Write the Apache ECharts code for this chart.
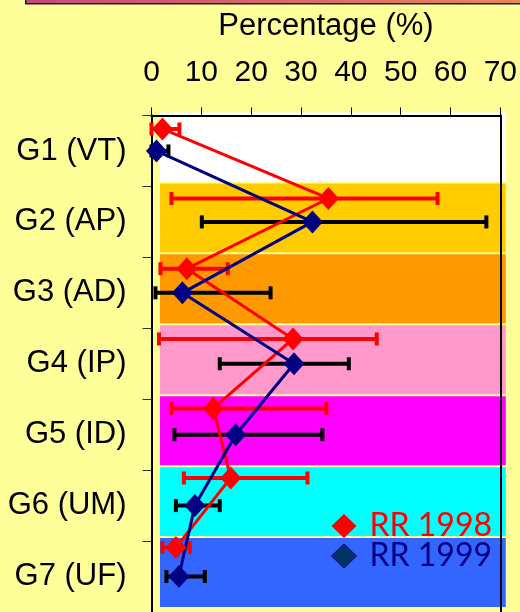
<!DOCTYPE html>
<html><head><meta charset="utf-8">
<script src="https://cdn.jsdelivr.net/npm/echarts@6/dist/echarts.min.js"></script>
<style>html,body{margin:0;padding:0;background:#FFFF99;}#c{width:520px;height:612px;}</style>
</head><body><div id="c"></div>
<script>
const categories = ['G1 (VT)', 'G2 (AP)', 'G3 (AD)', 'G4 (IP)', 'G5 (ID)', 'G6 (UM)', 'G7 (UF)'];
const bandColors = ['#FFFFFF', '#FFCC00', '#FF9900', '#FF99CC', '#FF00FF', '#00FFFF', '#3366FF'];
const xTicks = [0, 10, 20, 30, 40, 50, 60, 70];
const rr1998 = [2.2, 35.5, 7.1, 28.4, 12.4, 15.9, 4.9];
const rr1998Low = [0, 4.0, 1.8, 1.5, 4.0, 6.5, 2.2];
const rr1998High = [5.6, 57.4, 15.3, 45.2, 35.1, 31.3, 7.7];
const rr1998Pos = [0.19, 1.17, 2.16, 3.15, 4.13, 5.11, 6.09];
const rr1999 = [1.0, 32.3, 6.2, 28.6, 16.9, 8.7, 5.5];
const rr1999Low = [0, 10.1, 0.8, 13.7, 4.6, 4.9, 3.0];
const rr1999High = [3.4, 67.2, 23.9, 39.6, 34.3, 13.7, 10.7];
const rr1999Pos = [0.5, 1.5, 2.5, 3.5, 4.5, 5.5, 6.5];
const bandXStart = 1.7, bandXEnd = 71.1;

const chart = echarts.init(document.getElementById('c'), null, {renderer: 'canvas'});

function errRender(color) {
  return function (params, api) {
    const lo = api.coord([api.value(0), api.value(2)]);
    const hi = api.coord([api.value(1), api.value(2)]);
    const h = 6.5;
    const st = {stroke: color, lineWidth: 4};
    return {type: 'group', children: [
      {type: 'line', shape: {x1: lo[0], y1: lo[1], x2: hi[0], y2: hi[1]}, style: st},
      {type: 'line', shape: {x1: lo[0], y1: lo[1] - h, x2: lo[0], y2: lo[1] + h}, style: st},
      {type: 'line', shape: {x1: hi[0], y1: hi[1] - h, x2: hi[0], y2: hi[1] + h}, style: st}
    ]};
  };
}

const option = {
  backgroundColor: '#FFFF99',
  animation: false,
  textStyle: {fontFamily: 'Liberation Sans, Arial, sans-serif'},
  graphic: [{
    type: 'rect', left: 25, top: -10, shape: {width: 510, height: 13},
    style: {fill: new echarts.graphic.LinearGradient(0, 0, 1, 0, [{offset: 0, color: '#C24A7C'}, {offset: 1, color: '#E88A58'}]), stroke: '#222', lineWidth: 1.5},
    z: 100
  }],
  grid: {left: 151.5, top: 115.5, width: 349, height: 500, show: false},
  legend: {
    orient: 'vertical', left: 326, top: 505, itemWidth: 25, itemHeight: 24, itemGap: -2,
    textStyle: {fontFamily: 'Lato', fontSize: 32, lineHeight: 24, padding: [0, 0, 0, 8]},
    data: [
      {name: 'RR 1998', icon: 'diamond', itemStyle: {color: '#FF0000', borderWidth: 0}, textStyle: {color: '#FF0000'}},
      {name: 'RR 1999', icon: 'diamond', itemStyle: {color: '#003366', borderColor: '#000080', borderWidth: 1}, textStyle: {color: '#000080'}}
    ]
  },
  xAxis: {
    type: 'value', position: 'top', min: 0, max: 70, interval: 10, z: 3,
    name: 'Percentage (%)', nameLocation: 'middle', nameGap: 74,
    nameTextStyle: {fontSize: 31, color: '#000'},
    splitLine: {show: false},
    axisLine: {show: true, lineStyle: {color: '#000', width: 2}},
    axisTick: {show: true, length: 8, lineStyle: {color: '#000', width: 1}},
    axisLabel: {fontSize: 30, color: '#000', margin: 28, formatter: v => xTicks.includes(v) ? String(v) : ''}
  },
  yAxis: [{
    type: 'category', data: categories, inverse: true, position: 'left', z: 3,
    axisLine: {show: true, lineStyle: {color: '#000', width: 2}},
    axisTick: {show: true, length: 9, lineStyle: {color: '#333', width: 1}},
    axisLabel: {fontSize: 31, color: '#000', margin: 25, lineHeight: 36, verticalAlign: 'middle'},
    splitLine: {show: false}
  }, {
    type: 'value', min: 0, max: 7, inverse: true, position: 'right', z: 3,
    axisLine: {show: true, onZero: false, lineStyle: {color: '#000', width: 2}},
    axisTick: {show: false}, axisLabel: {show: false}, splitLine: {show: false}
  }],
  series: [
    {
      type: 'custom', name: 'bands', yAxisIndex: 1, z: 1, clip: false, silent: true,
      data: categories.map((c, i) => [i]),
      renderItem: function (params, api) {
        const i = api.value(0);
        const a = api.coord([bandXStart, i]);
        const b = api.coord([bandXEnd, i + 1]);
        return {type: 'rect', shape: {x: a[0], y: a[1] - 3, width: b[0] - a[0], height: b[1] - a[1] - 2}, style: {fill: bandColors[i]}};
      }
    },
    {
      type: 'custom', name: 'err1998', yAxisIndex: 1, z: 4, clip: false, silent: true,
      data: rr1998.map((v, i) => [rr1998Low[i], rr1998High[i], rr1998Pos[i]]),
      renderItem: errRender('#FF0000')
    },
    {
      type: 'custom', name: 'err1999', yAxisIndex: 1, z: 4, clip: false, silent: true,
      data: rr1999.map((v, i) => [rr1999Low[i], rr1999High[i], rr1999Pos[i]]),
      renderItem: errRender('#000000')
    },
    {
      type: 'line', name: 'RR 1998', yAxisIndex: 1, z: 5, clip: false,
      data: rr1998.map((v, i) => [v, rr1998Pos[i]]),
      symbol: 'diamond', symbolSize: [21, 23],
      itemStyle: {color: '#FF0000'}, lineStyle: {color: '#FF0000', width: 3}
    },
    {
      type: 'line', name: 'RR 1999', yAxisIndex: 1, z: 5, clip: false,
      data: rr1999.map((v, i) => [v, rr1999Pos[i]]),
      symbol: 'diamond', symbolSize: [21, 23],
      itemStyle: {color: '#000080'}, lineStyle: {color: '#000080', width: 3}
    }
  ]
};
chart.setOption(option);
</script></body></html>
